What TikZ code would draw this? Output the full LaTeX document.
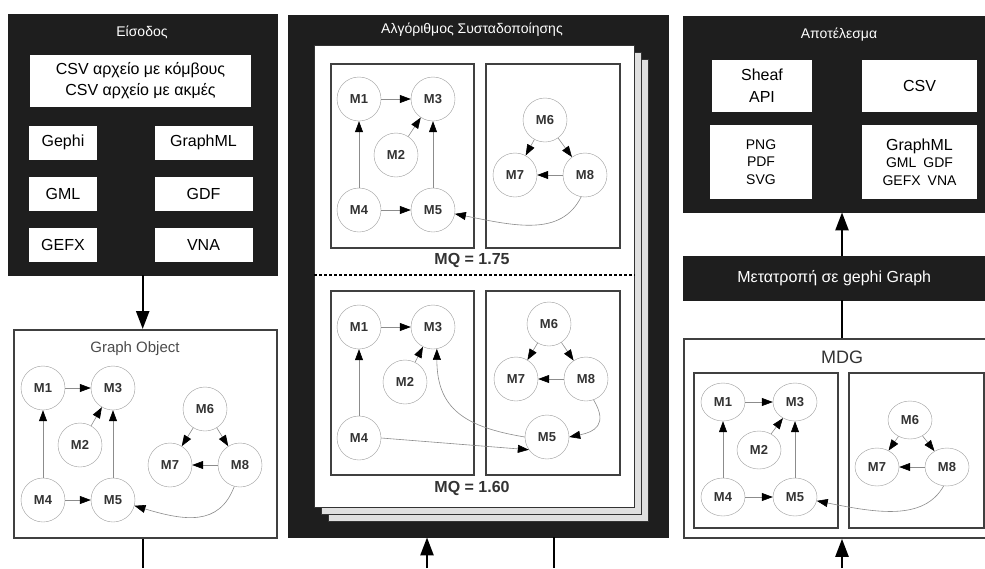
\documentclass[tikz,border=0pt]{standalone}
\usepackage{fontspec}
\setmainfont{Liberation Sans}
\usepackage{xcolor}
\usepackage{tikz}
\usetikzlibrary{arrows.meta,positioning,shapes.geometric}

\definecolor{panelblack}{HTML}{1E1E1E}

\begin{document}
\begin{tikzpicture}[
    x=1pt, y=-1pt,
    panel/.style={fill=panelblack, draw=panelblack, inner sep=0pt},
    ptitle/.style={text=white, font=\fontsize{14}{16}\selectfont},
    wbox/.style={fill=white, inner sep=0pt, align=center, font=\fontsize{16}{21}\selectfont},
    fmtL/.style={wbox, minimum width=68pt, minimum height=34pt},
    fmtR/.style={wbox, minimum width=98pt, minimum height=34pt},
    frame/.style={draw=black!75, line width=1.8pt, fill=white, inner sep=0pt},
    sheet/.style={draw=black!80, line width=1pt, fill=black!12, inner sep=0pt},
    mod/.style={circle, draw=black!38, fill=white, minimum size=44pt, inner sep=0pt, font=\fontsize{13}{13}\selectfont\bfseries, text=black!80},
    modE/.style={mod, ellipse, minimum width=44pt, minimum height=38pt},
    mq/.style={font=\fontsize{16}{16}\selectfont\bfseries, text=black!80},
    dep/.style={draw=black!45, line width=0.6pt, -{Triangle[length=11pt,width=8pt,color=black]}},
    bigarrow/.style={line width=2.4pt, -{Triangle[length=18pt,width=13pt]}},
    link/.style={line width=2.4pt},
    node distance=17pt
]
\useasboundingbox (0,0) rectangle (985,568);

% Eisodos
\node[panel, anchor=north west, minimum width=269pt, minimum height=261pt] (inPanel) at (8,14) {};
\node[ptitle] (inTitle) at (142,32) {Είσοδος};
\node[wbox, minimum width=221pt, minimum height=52pt] (csvIn) at (140.5,81) {CSV αρχείο με κόμβους\\CSV αρχείο με ακμές};
\node[fmtL] (gephi) at (63,142.5) {Gephi};
\node[fmtR] (graphml) at (203.5,142.5) {GraphML};
\node[fmtL, below=of gephi] (gml) {GML};
\node[fmtR, below=of graphml] (gdf) {GDF};
\node[fmtL, below=of gml] (gefx) {GEFX};
\node[fmtR, below=of gdf] (vna) {VNA};

% Graph Object
\node[frame, anchor=north west, minimum width=263pt, minimum height=208pt] (graphObj) at (13,329) {};
\node[font=\fontsize{15}{15}\selectfont, text=black!70] (goTitle) at (135,349) {Graph Object};
\node[mod] (gM1) at (43,388) {M1};
\node[mod] (gM3) at (113,388) {M3};
\node[mod] (gM2) at (80,445) {M2};
\node[mod] (gM4) at (43,500) {M4};
\node[mod] (gM5) at (113,500) {M5};
\node[mod] (gM6) at (205,409) {M6};
\node[mod] (gM7) at (170,465) {M7};
\node[mod] (gM8) at (240,465) {M8};
\draw[dep] (gM1) -- (gM3);
\draw[dep] (gM2) -- (gM3);
\draw[dep] (gM4) -- (gM1);
\draw[dep] (gM4) -- (gM5);
\draw[dep] (gM5) -- (gM3);
\draw[dep] (gM6) -- (gM7);
\draw[dep] (gM6) -- (gM8);
\draw[dep] (gM8) -- (gM7);
\draw[dep] (gM8.255) .. controls +(-15,40) and +(50,15) .. (gM5.-15);

% Algorithmos
\node[panel, anchor=north west, minimum width=380pt, minimum height=522pt] (algPanel) at (288,15) {};
\node[ptitle] (algTitle) at (472,30) {Αλγόριθμος Συσταδοποίησης};
\node[sheet, anchor=north west, minimum width=320pt, minimum height=462pt] (sheetC) at (328,59) {};
\node[sheet, anchor=north west, minimum width=320pt, minimum height=462pt] (sheetB) at (321,52) {};
\node[sheet, fill=white, anchor=north west, minimum width=320pt, minimum height=462pt] (sheetA) at (314,45) {};
\node[frame, anchor=north west, minimum width=143pt, minimum height=184pt] (topL) at (330,63) {};
\node[frame, anchor=north west, minimum width=134pt, minimum height=184pt] (topR) at (485,63) {};
\node[mq] (mqTop) at (472,260) {MQ = 1.75};
\coordinate (split) at (472,275);
\draw[line width=1.2pt, dash pattern=on 3pt off 2pt] (sheetA.west |- split) -- (sheetA.east |- split);
\node[frame, anchor=north west, minimum width=143pt, minimum height=184pt] (botL) at (330,290) {};
\node[frame, anchor=north west, minimum width=134pt, minimum height=184pt] (botR) at (485,290) {};
\node[mq] (mqBot) at (472,488) {MQ = 1.60};

\node[mod] (aM1) at (359,99) {M1};
\node[mod] (aM3) at (433,99) {M3};
\node[mod] (aM2) at (396,155) {M2};
\node[mod] (aM4) at (359,210) {M4};
\node[mod] (aM5) at (433,210) {M5};
\node[mod] (aM6) at (545,120) {M6};
\node[mod] (aM7) at (515,175) {M7};
\node[mod] (aM8) at (585,175) {M8};
\draw[dep] (aM1) -- (aM3);
\draw[dep] (aM2) -- (aM3);
\draw[dep] (aM4) -- (aM1);
\draw[dep] (aM4) -- (aM5);
\draw[dep] (aM5) -- (aM3);
\draw[dep] (aM6) -- (aM7);
\draw[dep] (aM6) -- (aM8);
\draw[dep] (aM8) -- (aM7);
\draw[dep] (aM8.260) .. controls +(-20,40) and +(60,12) .. (aM5.-10);

\node[mod] (bM1) at (359,327) {M1};
\node[mod] (bM3) at (433,327) {M3};
\node[mod] (bM2) at (405,382) {M2};
\node[mod] (bM4) at (359,438) {M4};
\node[mod] (bM6) at (549,324) {M6};
\node[mod] (bM7) at (516,379) {M7};
\node[mod] (bM8) at (586,379) {M8};
\node[mod] (bM5) at (547,437) {M5};
\draw[dep] (bM1) -- (bM3);
\draw[dep] (bM2) -- (bM3);
\draw[dep] (bM4) -- (bM1);
\draw[dep] (bM4.east) -- (bM5.215);
\draw[dep] (bM5.west) .. controls +(-60,-10) and +(0,60) .. (bM3.-80);
\draw[dep] (bM6) -- (bM7);
\draw[dep] (bM6) -- (bM8);
\draw[dep] (bM8) -- (bM7);
\draw[dep] (bM8.-70) .. controls +(15,25) and +(25,-5) .. (bM5.east);

% Apotelesma
\node[panel, anchor=north west, minimum width=302pt, minimum height=196pt] (outPanel) at (683,16) {};
\node[ptitle] (outTitle) at (839,35) {Αποτέλεσμα};
\node[wbox, minimum width=100pt, minimum height=52pt, font=\fontsize{16}{22}\selectfont] (sheaf) at (762,86) {Sheaf\\API};
\node[wbox, minimum width=115pt, minimum height=52pt] (csvOut) at (919.5,86) {CSV};
\node[wbox, minimum width=102pt, minimum height=74pt, font=\fontsize{14}{17.5}\selectfont] (imgOut) at (761,162) {PNG\\PDF\\SVG};
\node[wbox, minimum width=115pt, minimum height=74pt, font=\fontsize{14}{17.5}\selectfont] (fmtOut) at (919.5,162) {{\fontsize{16}{17.5}\selectfont GraphML}\\GML\enspace GDF\\GEFX\enspace VNA};

\node[panel, anchor=north west, minimum width=302pt, minimum height=44pt, text=white, font=\fontsize{16}{16}\selectfont] (conv) at (683,256) {Μετατροπή σε gephi Graph};

% MDG
\node[frame, anchor=north west, minimum width=306pt, minimum height=199pt] (mdg) at (683,338) {};
\node[font=\fontsize{18}{18}\selectfont, text=black!80] (mdgTitle) at (842,357) {MDG};
\node[frame, anchor=north west, minimum width=144pt, minimum height=155pt] (mdgL) at (693,372) {};
\node[frame, anchor=north west, minimum width=135pt, minimum height=155pt] (mdgR) at (848,372) {};
\node[modE] (dM1) at (723,402) {M1};
\node[modE] (dM3) at (795,402) {M3};
\node[modE] (dM2) at (759,450) {M2};
\node[modE] (dM4) at (723,497) {M4};
\node[modE] (dM5) at (795,497) {M5};
\node[modE] (dM6) at (910,420) {M6};
\node[modE] (dM7) at (877,467) {M7};
\node[modE] (dM8) at (947,467) {M8};
\draw[dep] (dM1) -- (dM3);
\draw[dep] (dM2) -- (dM3);
\draw[dep] (dM4) -- (dM1);
\draw[dep] (dM4) -- (dM5);
\draw[dep] (dM5) -- (dM3);
\draw[dep] (dM6) -- (dM7);
\draw[dep] (dM6) -- (dM8);
\draw[dep] (dM8) -- (dM7);
\draw[dep] (dM8.260) .. controls +(-20,35) and +(60,12) .. (dM5.-10);

% connectors
\coordinate (goOut) at (143,568);
\coordinate (algIn) at (427,568);
\coordinate (algOut) at (554,568);
\coordinate (mdgIn) at (842,568);
\draw[bigarrow] (inPanel.south) -- (inPanel.south |- graphObj.north);
\draw[link] (goOut |- graphObj.south) -- (goOut);
\draw[bigarrow] (algIn) -- (algIn |- algPanel.south);
\draw[link] (algOut |- algPanel.south) -- (algOut);
\draw[bigarrow] (mdgIn) -- (mdgIn |- mdg.south);
\draw[link] (mdgIn |- mdg.north) -- (mdgIn |- conv.south);
\draw[bigarrow] (mdgIn |- conv.north) -- (mdgIn |- outPanel.south);
\end{tikzpicture}
\end{document}
